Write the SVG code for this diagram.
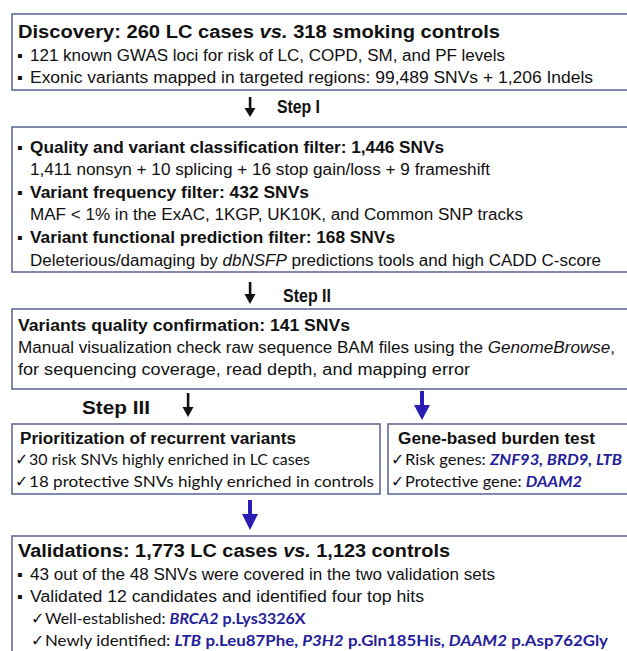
<svg xmlns="http://www.w3.org/2000/svg" width="627" height="651" viewBox="0 0 627 651">
<style>
.box{fill:#fff;stroke:#5a6193;stroke-width:1.5}
.a{font-family:"Liberation Sans",Arial,sans-serif;fill:#111}
.h{font-size:18px;font-weight:bold}
.b{font-size:16px}
.bb{font-size:16px;font-weight:bold}
.c{font-family:Lato,"Liberation Sans",sans-serif;fill:#111;font-size:16px}
.ch{font-family:"DejaVu Sans",sans-serif}
.bl{fill:#24209a;font-weight:bold}
.bi{fill:#24209a;font-weight:bold;font-style:italic}
.blue{fill:#2a1db4}
.blk{fill:#111}
</style>
<rect width="627" height="651" fill="#fff"/>
<g id="connectors">
  <g id="arrow-step1"><rect x="248.8" y="97" width="2.6" height="12" class="blk"/><polygon points="244.5,108 255.5,108 250,117" class="blk"/></g>
  <g id="arrow-step2"><rect x="248.8" y="282" width="2.6" height="13" class="blk"/><polygon points="244.5,294 255.5,294 250,304" class="blk"/></g>
  <g id="arrow-step3"><rect x="186.8" y="393" width="2.6" height="15" class="blk"/><polygon points="182.5,407 193.5,407 188,417" class="blk"/></g>
  <g id="arrow-burden"><rect x="420" y="391" width="4" height="15" class="blue"/><polygon points="414,405 430,405 422,420" class="blue"/></g>
  <g id="arrow-valid"><rect x="248" y="500" width="4" height="16" class="blue"/><polygon points="242,514 258,514 250,530" class="blue"/></g>
  <text x="277" y="113" class="a h" textLength="43" lengthAdjust="spacingAndGlyphs">Step I</text>
  <text x="283" y="302" class="a h" textLength="48" lengthAdjust="spacingAndGlyphs">Step II</text>
  <text x="82" y="414" class="a h" textLength="68" lengthAdjust="spacingAndGlyphs">Step III</text>
</g>
<g id="discovery">
  <rect x="12" y="14" width="620" height="76" class="box"/>
  <text x="18" y="38" class="a h" textLength="482" lengthAdjust="spacingAndGlyphs">Discovery:  260  LC cases  <tspan font-style="italic">vs.</tspan> 318  smoking controls</text>
  <text x="17" y="61" class="a b">▪</text>
  <text x="30" y="61" class="a b" textLength="475" lengthAdjust="spacingAndGlyphs">121 known GWAS loci for risk of LC, COPD, SM, and PF levels</text>
  <text x="17" y="83" class="a b">▪</text>
  <text x="30" y="83" class="a b" textLength="563" lengthAdjust="spacingAndGlyphs">Exonic variants  mapped in targeted regions:  99,489 SNVs  +  1,206 Indels</text>
</g>
<g id="step1-filters">
  <rect x="12" y="127" width="620" height="145" class="box"/>
  <text x="17" y="153" class="a b">▪</text>
  <text x="30" y="153" class="a bb" textLength="414" lengthAdjust="spacingAndGlyphs">Quality and variant classification filter:  1,446 SNVs</text>
  <text x="30" y="175" class="a b" textLength="460" lengthAdjust="spacingAndGlyphs">1,411 nonsyn + 10 splicing + 16 stop gain/loss + 9 frameshift</text>
  <text x="17" y="198" class="a b">▪</text>
  <text x="30" y="198" class="a bb" textLength="279" lengthAdjust="spacingAndGlyphs">Variant frequency filter:  432 SNVs</text>
  <text x="30" y="220" class="a b" textLength="493" lengthAdjust="spacingAndGlyphs">MAF &lt; 1% in the ExAC, 1KGP, UK10K, and Common SNP tracks</text>
  <text x="17" y="243" class="a b">▪</text>
  <text x="30" y="243" class="a bb" textLength="365" lengthAdjust="spacingAndGlyphs">Variant functional prediction filter:  168 SNVs</text>
  <text x="30" y="266" class="a b" textLength="571" lengthAdjust="spacingAndGlyphs">Deleterious/damaging by <tspan font-style="italic">dbNSFP</tspan> predictions tools and high  CADD C-score</text>
</g>
<g id="step2-confirmation">
  <rect x="12" y="309" width="620" height="80" class="box"/>
  <text x="18" y="331" class="a bb" textLength="332" lengthAdjust="spacingAndGlyphs">Variants quality confirmation:  141 SNVs</text>
  <text x="18" y="353" class="a b" textLength="597" lengthAdjust="spacingAndGlyphs">Manual  visualization  check raw sequence BAM files using the <tspan font-style="italic">GenomeBrowse</tspan>,</text>
  <text x="18" y="375" class="a b" textLength="452" lengthAdjust="spacingAndGlyphs">for sequencing coverage, read depth, and mapping error</text>
</g>
<g id="prioritization">
  <rect x="12" y="424" width="368" height="70" class="box"/>
  <text x="20" y="444" class="a bb" textLength="276" lengthAdjust="spacingAndGlyphs">Prioritization of recurrent variants</text>
  <text x="15" y="465" class="c ch" font-size="14">✓</text>
  <text x="29" y="465" class="c" textLength="281" lengthAdjust="spacingAndGlyphs">30 risk SNVs highly enriched in LC cases</text>
  <text x="15" y="487" class="c ch" font-size="14">✓</text>
  <text x="29" y="487" class="c" textLength="345" lengthAdjust="spacingAndGlyphs">18 protective SNVs highly enriched in controls</text>
</g>
<g id="burden-test">
  <rect x="388" y="424" width="244" height="70" class="box"/>
  <text x="398" y="444" class="a bb" textLength="197" lengthAdjust="spacingAndGlyphs">Gene-based burden test</text>
  <text x="391" y="465" class="c ch" font-size="14">✓</text>
  <text x="405" y="465" class="c" textLength="217" lengthAdjust="spacingAndGlyphs">Risk genes: <tspan class="bi">ZNF93, BRD9, LTB</tspan></text>
  <text x="391" y="487" class="c ch" font-size="14">✓</text>
  <text x="405" y="487" class="c" textLength="177" lengthAdjust="spacingAndGlyphs">Protective gene: <tspan class="bi">DAAM2</tspan></text>
</g>
<g id="validations">
  <rect x="12" y="536" width="620" height="125" class="box"/>
  <text x="18" y="557" class="a h" textLength="432" lengthAdjust="spacingAndGlyphs">Validations:  1,773  LC cases <tspan font-style="italic">vs.</tspan> 1,123  controls</text>
  <text x="17" y="580" class="a b">▪</text>
  <text x="30" y="580" class="a b" textLength="465" lengthAdjust="spacingAndGlyphs">43 out of the 48 SNVs were covered in the two validation sets</text>
  <text x="17" y="602" class="a b">▪</text>
  <text x="30" y="602" class="a b" textLength="394" lengthAdjust="spacingAndGlyphs">Validated 12 candidates and  identified four top hits</text>
  <text x="31" y="624" class="c ch" font-size="14">✓</text>
  <text x="45" y="624" class="c" font-size="15.5">Well-established: <tspan class="bi">BRCA2</tspan> <tspan class="bl">p.Lys3326X</tspan></text>
  <text x="31" y="646" class="c ch" font-size="14">✓</text>
  <text x="45" y="646" class="c" textLength="563" lengthAdjust="spacingAndGlyphs">Newly identified: <tspan class="bi">LTB</tspan> <tspan class="bl">p.Leu87Phe, </tspan><tspan class="bi" font-weight="normal">P3H2</tspan> <tspan class="bl">p.Gln185His, </tspan><tspan class="bi" font-weight="normal">DAAM2</tspan> <tspan class="bl">p.Asp762Gly</tspan></text>
</g>
</svg>
